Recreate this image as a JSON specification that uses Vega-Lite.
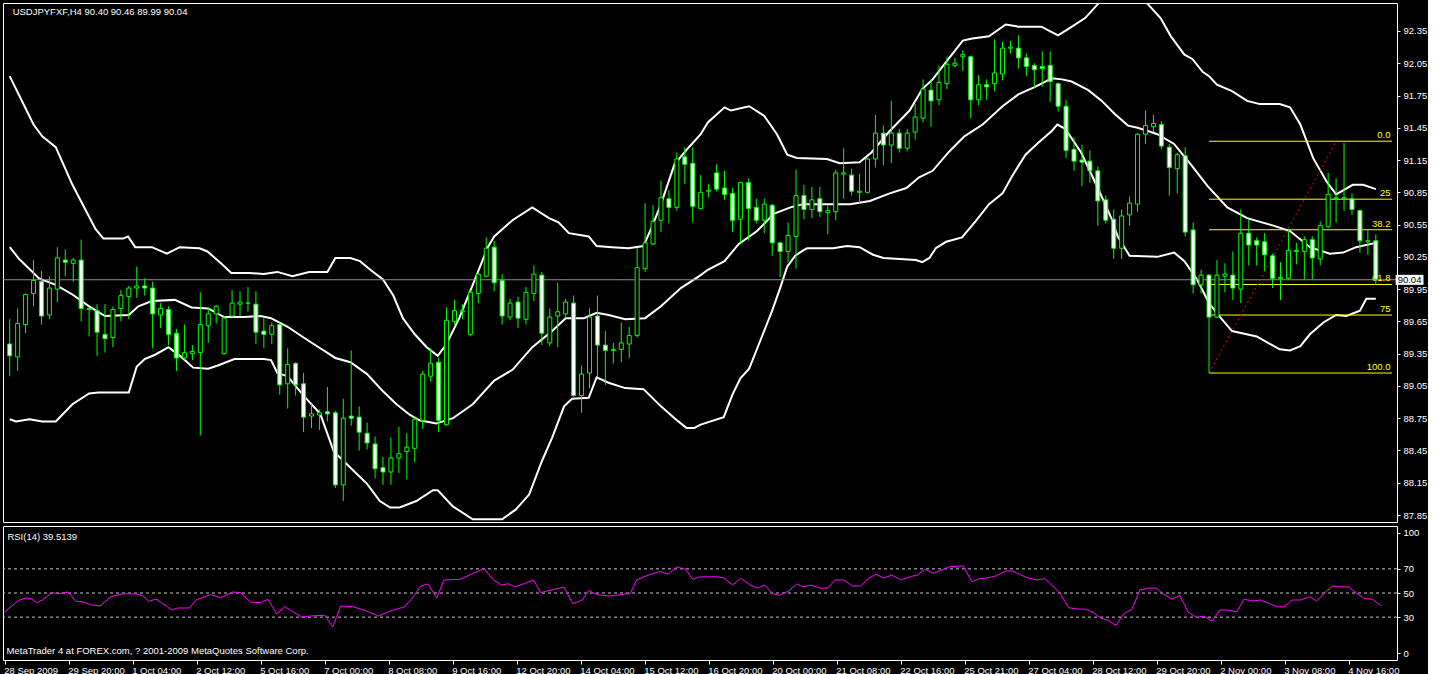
{
"$schema":"https://vega.github.io/schema/vega-lite/v6.json",
"background":"black",
"padding":{"left":2,"top":2,"right":0,"bottom":0},
"spacing":2,
"config":{"font":"Liberation Sans","view":{"stroke":"white","strokeWidth":1},
"axis":{"labelColor":"white","tickColor":"white","domainColor":"white","labelFont":"Liberation Sans","labelFontSize":9.5,"grid":false,"title":null,"tickSize":3,"domain":false,"labelOverlap":false}},
"resolve":{"scale":{"x":"independent","y":"independent"}},
"datasets":{
"bars":[
{"i":0,"o":89.44,"h":89.67,"l":89.14,"c":89.33},{"i":1,"o":89.32,"h":89.77,"l":89.19,"c":89.63},{"i":2,"o":89.62,"h":89.91,"l":89.54,"c":89.90},{"i":3,"o":89.91,"h":90.22,"l":89.79,"c":90.03},{"i":4,"o":90.02,"h":90.12,"l":89.62,"c":89.70},{"i":5,"o":89.71,"h":90.07,"l":89.67,"c":89.96},{"i":6,"o":89.95,"h":90.34,"l":89.83,"c":90.24},{"i":7,"o":90.22,"h":90.32,"l":90.07,"c":90.20},{"i":8,"o":90.19,"h":90.24,"l":90.02,"c":90.22},{"i":9,"o":90.22,"h":90.41,"l":89.65,"c":89.77},
{"i":10,"o":89.76,"h":89.78,"l":89.51,"c":89.77},{"i":11,"o":89.75,"h":89.81,"l":89.33,"c":89.55},{"i":12,"o":89.53,"h":89.81,"l":89.36,"c":89.49},{"i":13,"o":89.50,"h":89.79,"l":89.41,"c":89.76},{"i":14,"o":89.77,"h":89.94,"l":89.65,"c":89.89},{"i":15,"o":89.88,"h":89.98,"l":89.67,"c":89.96},{"i":16,"o":89.96,"h":90.16,"l":89.87,"c":89.98},{"i":17,"o":89.98,"h":90.05,"l":89.89,"c":89.96},{"i":18,"o":89.96,"h":90.02,"l":89.40,"c":89.72},{"i":19,"o":89.71,"h":89.82,"l":89.59,"c":89.77},
{"i":20,"o":89.76,"h":89.79,"l":89.43,"c":89.53},{"i":21,"o":89.54,"h":89.58,"l":89.19,"c":89.31},{"i":22,"o":89.31,"h":89.62,"l":89.29,"c":89.36},{"i":23,"o":89.35,"h":89.43,"l":89.29,"c":89.37},{"i":24,"o":89.36,"h":89.92,"l":88.59,"c":89.62},{"i":25,"o":89.61,"h":89.78,"l":89.45,"c":89.72},{"i":26,"o":89.72,"h":89.80,"l":89.63,"c":89.79},{"i":27,"o":89.35,"h":89.70,"l":89.34,"c":89.68},{"i":28,"o":89.70,"h":89.94,"l":89.69,"c":89.82},{"i":29,"o":89.81,"h":89.93,"l":89.70,"c":89.83},
{"i":30,"o":89.82,"h":89.97,"l":89.74,"c":89.82},{"i":31,"o":89.81,"h":89.93,"l":89.44,"c":89.55},{"i":32,"o":89.56,"h":89.68,"l":89.40,"c":89.53},{"i":33,"o":89.53,"h":89.64,"l":89.44,"c":89.61},{"i":34,"o":89.62,"h":89.64,"l":88.97,"c":89.06},{"i":35,"o":89.07,"h":89.40,"l":88.84,"c":89.25},{"i":36,"o":89.26,"h":89.27,"l":88.96,"c":89.06},{"i":37,"o":89.07,"h":89.17,"l":88.62,"c":88.76},{"i":38,"o":88.77,"h":88.88,"l":88.66,"c":88.79},{"i":39,"o":88.78,"h":88.83,"l":88.64,"c":88.80},
{"i":40,"o":88.81,"h":89.04,"l":88.72,"c":88.79},{"i":41,"o":88.80,"h":88.82,"l":88.10,"c":88.13},{"i":42,"o":88.13,"h":88.93,"l":87.98,"c":88.75},{"i":43,"o":88.77,"h":89.38,"l":88.68,"c":88.75},{"i":44,"o":88.76,"h":88.86,"l":88.45,"c":88.62},{"i":45,"o":88.61,"h":88.71,"l":88.46,"c":88.52},{"i":46,"o":88.51,"h":88.58,"l":88.19,"c":88.28},{"i":47,"o":88.29,"h":88.39,"l":88.13,"c":88.25},{"i":48,"o":88.25,"h":88.57,"l":88.13,"c":88.38},{"i":49,"o":88.38,"h":88.67,"l":88.24,"c":88.42},
{"i":50,"o":88.44,"h":88.61,"l":88.18,"c":88.48},{"i":51,"o":88.47,"h":88.76,"l":88.34,"c":88.74},{"i":52,"o":88.73,"h":89.19,"l":88.65,"c":89.16},{"i":53,"o":89.14,"h":89.40,"l":89.09,"c":89.26},{"i":54,"o":89.27,"h":89.31,"l":88.62,"c":88.73},{"i":55,"o":88.69,"h":89.78,"l":88.68,"c":89.66},{"i":56,"o":89.65,"h":89.85,"l":89.62,"c":89.75},{"i":57,"o":89.74,"h":89.81,"l":89.67,"c":89.75},{"i":58,"o":89.53,"h":89.94,"l":89.51,"c":89.92},{"i":59,"o":89.91,"h":90.10,"l":89.82,"c":90.09},
{"i":60,"o":90.07,"h":90.43,"l":90.06,"c":90.33},{"i":61,"o":90.34,"h":90.40,"l":89.93,"c":90.01},{"i":62,"o":90.03,"h":90.09,"l":89.62,"c":89.70},{"i":63,"o":89.69,"h":89.86,"l":89.66,"c":89.82},{"i":64,"o":89.83,"h":89.88,"l":89.59,"c":89.68},{"i":65,"o":89.67,"h":89.97,"l":89.62,"c":89.92},{"i":66,"o":89.91,"h":90.17,"l":89.84,"c":90.09},{"i":67,"o":90.08,"h":90.11,"l":89.43,"c":89.54},{"i":68,"o":89.45,"h":89.77,"l":89.42,"c":89.69},{"i":69,"o":89.70,"h":90.01,"l":89.41,"c":89.74},
{"i":70,"o":89.72,"h":89.86,"l":89.68,"c":89.83},{"i":71,"o":89.82,"h":89.89,"l":88.95,"c":88.96},{"i":72,"o":88.96,"h":89.24,"l":88.80,"c":89.16},{"i":73,"o":89.17,"h":89.77,"l":89.03,"c":89.69},{"i":74,"o":89.70,"h":89.89,"l":89.13,"c":89.43},{"i":75,"o":89.43,"h":89.56,"l":89.06,"c":89.38},{"i":76,"o":89.38,"h":89.45,"l":89.26,"c":89.39},{"i":77,"o":89.39,"h":89.64,"l":89.27,"c":89.45},{"i":78,"o":89.44,"h":89.60,"l":89.31,"c":89.52},{"i":79,"o":89.52,"h":90.33,"l":89.50,"c":90.15},
{"i":80,"o":90.14,"h":90.75,"l":90.11,"c":90.38},{"i":81,"o":90.37,"h":90.73,"l":90.36,"c":90.58},{"i":82,"o":90.59,"h":90.96,"l":90.48,"c":90.80},{"i":83,"o":90.79,"h":90.87,"l":90.56,"c":90.71},{"i":84,"o":90.71,"h":91.22,"l":90.68,"c":91.16},{"i":85,"o":91.18,"h":91.27,"l":90.93,"c":91.11},{"i":86,"o":91.12,"h":91.27,"l":90.57,"c":90.72},{"i":87,"o":90.70,"h":91.01,"l":90.69,"c":90.85},{"i":88,"o":90.86,"h":90.93,"l":90.80,"c":90.87},{"i":89,"o":91.03,"h":91.11,"l":90.86,"c":90.88},
{"i":90,"o":90.89,"h":91.05,"l":90.78,"c":90.83},{"i":91,"o":90.84,"h":90.89,"l":90.48,"c":90.59},{"i":92,"o":90.60,"h":90.95,"l":90.38,"c":90.94},{"i":93,"o":90.94,"h":90.98,"l":90.40,"c":90.70},{"i":94,"o":90.71,"h":90.79,"l":90.56,"c":90.59},{"i":95,"o":90.59,"h":90.79,"l":90.47,"c":90.74},{"i":96,"o":90.73,"h":90.74,"l":90.26,"c":90.38},{"i":97,"o":90.38,"h":90.39,"l":90.06,"c":90.30},{"i":98,"o":90.30,"h":90.57,"l":90.20,"c":90.45},{"i":99,"o":90.44,"h":91.06,"l":90.14,"c":90.82},
{"i":100,"o":90.82,"h":90.92,"l":90.60,"c":90.69},{"i":101,"o":90.69,"h":90.90,"l":90.61,"c":90.78},{"i":102,"o":90.79,"h":90.90,"l":90.62,"c":90.67},{"i":103,"o":90.66,"h":90.73,"l":90.46,"c":90.68},{"i":104,"o":90.67,"h":91.06,"l":90.59,"c":91.03},{"i":105,"o":91.02,"h":91.26,"l":90.79,"c":91.03},{"i":106,"o":91.01,"h":91.07,"l":90.82,"c":90.86},{"i":107,"o":90.85,"h":91.02,"l":90.75,"c":90.86},{"i":108,"o":90.85,"h":91.17,"l":90.84,"c":91.16},{"i":109,"o":91.16,"h":91.57,"l":91.08,"c":91.40},
{"i":110,"o":91.40,"h":91.47,"l":91.10,"c":91.29},{"i":111,"o":91.29,"h":91.70,"l":91.12,"c":91.40},{"i":112,"o":91.40,"h":91.44,"l":91.22,"c":91.26},{"i":113,"o":91.26,"h":91.44,"l":91.23,"c":91.40},{"i":114,"o":91.41,"h":91.67,"l":91.34,"c":91.55},{"i":115,"o":91.54,"h":91.90,"l":91.50,"c":91.81},{"i":116,"o":91.80,"h":91.90,"l":91.46,"c":91.70},{"i":117,"o":91.71,"h":92.03,"l":91.66,"c":91.87},{"i":118,"o":91.86,"h":92.11,"l":91.81,"c":92.04},{"i":119,"o":92.03,"h":92.10,"l":92.01,"c":92.05},
{"i":120,"o":92.11,"h":92.17,"l":91.98,"c":92.13},{"i":121,"o":92.11,"h":92.12,"l":91.54,"c":91.71},{"i":122,"o":91.71,"h":91.94,"l":91.66,"c":91.85},{"i":123,"o":91.85,"h":91.90,"l":91.71,"c":91.83},{"i":124,"o":91.86,"h":92.27,"l":91.79,"c":91.96},{"i":125,"o":91.95,"h":92.25,"l":91.89,"c":92.19},{"i":126,"o":92.19,"h":92.26,"l":92.14,"c":92.20},{"i":127,"o":92.19,"h":92.31,"l":92.00,"c":92.10},{"i":128,"o":92.10,"h":92.14,"l":91.93,"c":92.02},{"i":129,"o":92.03,"h":92.05,"l":91.82,"c":91.99},
{"i":130,"o":92.02,"h":92.16,"l":91.83,"c":92.00},{"i":131,"o":92.03,"h":92.16,"l":91.69,"c":91.88},{"i":132,"o":91.86,"h":91.87,"l":91.60,"c":91.65},{"i":133,"o":91.65,"h":91.71,"l":91.17,"c":91.24},{"i":134,"o":91.25,"h":91.36,"l":91.05,"c":91.14},{"i":135,"o":91.15,"h":91.29,"l":90.91,"c":91.13},{"i":136,"o":91.14,"h":91.24,"l":90.94,"c":91.05},{"i":137,"o":91.05,"h":91.09,"l":90.54,"c":90.77},{"i":138,"o":90.78,"h":90.82,"l":90.56,"c":90.59},{"i":139,"o":90.60,"h":90.69,"l":90.23,"c":90.33},
{"i":140,"o":90.33,"h":90.69,"l":90.23,"c":90.63},{"i":141,"o":90.64,"h":90.81,"l":90.54,"c":90.75},{"i":142,"o":90.74,"h":91.40,"l":90.67,"c":91.39},{"i":143,"o":91.39,"h":91.61,"l":91.30,"c":91.47},{"i":144,"o":91.46,"h":91.57,"l":91.41,"c":91.49},{"i":145,"o":91.48,"h":91.51,"l":91.25,"c":91.28},{"i":146,"o":91.27,"h":91.30,"l":90.82,"c":91.08},{"i":147,"o":91.07,"h":91.22,"l":90.84,"c":91.20},{"i":148,"o":91.19,"h":91.27,"l":90.44,"c":90.48},{"i":149,"o":90.50,"h":90.57,"l":89.91,"c":89.99},
{"i":150,"o":89.99,"h":90.13,"l":89.91,"c":90.08},{"i":151,"o":90.08,"h":90.09,"l":89.17,"c":89.69},{"i":152,"o":89.69,"h":90.22,"l":89.68,"c":90.08},{"i":153,"o":90.07,"h":90.19,"l":89.92,"c":90.09},{"i":154,"o":90.08,"h":90.30,"l":89.85,"c":89.96},{"i":155,"o":89.95,"h":90.69,"l":89.82,"c":90.47},{"i":156,"o":90.47,"h":90.60,"l":90.17,"c":90.36},{"i":157,"o":90.40,"h":90.43,"l":90.17,"c":90.36},{"i":158,"o":90.39,"h":90.47,"l":90.12,"c":90.27},{"i":159,"o":90.26,"h":90.28,"l":89.96,"c":90.05},
{"i":160,"o":90.05,"h":90.20,"l":89.85,"c":90.06},{"i":161,"o":90.05,"h":90.51,"l":90.04,"c":90.31},{"i":162,"o":90.30,"h":90.38,"l":90.18,"c":90.31},{"i":163,"o":90.30,"h":90.44,"l":90.04,"c":90.41},{"i":164,"o":90.41,"h":90.44,"l":90.04,"c":90.24},{"i":165,"o":90.23,"h":90.58,"l":90.17,"c":90.54},{"i":166,"o":90.53,"h":91.03,"l":90.52,"c":90.83},{"i":167,"o":90.79,"h":90.98,"l":90.57,"c":90.80},{"i":168,"o":90.79,"h":91.31,"l":90.68,"c":90.80},{"i":169,"o":90.79,"h":90.84,"l":90.64,"c":90.69},
{"i":170,"o":90.68,"h":90.69,"l":90.29,"c":90.40},{"i":171,"o":90.39,"h":90.50,"l":90.27,"c":90.40},{"i":172,"o":90.40,"h":90.46,"l":89.99,"c":90.04}
],
"bands":[
{"b":"u","i":0,"v":91.93},{"b":"u","i":3.0,"v":91.48},{"b":"u","i":4.1,"v":91.37},{"b":"u","i":5.8,"v":91.27},{"b":"u","i":7.9,"v":90.92},{"b":"u","i":10.8,"v":90.51},{"b":"u","i":11.8,"v":90.42},{"b":"u","i":14.3,"v":90.42},{"b":"u","i":14.9,"v":90.44},{"b":"u","i":15.8,"v":90.34},{"b":"u","i":17.9,"v":90.34},{"b":"u","i":19.8,"v":90.28},{"b":"u","i":21.4,"v":90.34},{"b":"u","i":23.9,"v":90.33},{"b":"u","i":24.9,"v":90.30},{"b":"u","i":26.6,"v":90.19},{"b":"u","i":27.9,"v":90.10},{"b":"u","i":30.2,"v":90.10},{"b":"u","i":32.0,"v":90.09},{"b":"u","i":33.7,"v":90.11},{"b":"u","i":35.6,"v":90.07},{"b":"u","i":37.7,"v":90.11},{"b":"u","i":40.0,"v":90.11},{"b":"u","i":41.0,"v":90.24},{"b":"u","i":42.9,"v":90.24},{"b":"u","i":44.1,"v":90.21},{"b":"u","i":45.4,"v":90.13},{"b":"u","i":47.0,"v":90.04},{"b":"u","i":48.3,"v":89.89},{"b":"u","i":49.5,"v":89.68},{"b":"u","i":51.0,"v":89.53},{"b":"u","i":52.5,"v":89.41},{"b":"u","i":53.9,"v":89.33},{"b":"u","i":55.0,"v":89.44},{"b":"u","i":56.6,"v":89.68},{"b":"u","i":58.3,"v":89.99},{"b":"u","i":60.2,"v":90.34},{"b":"u","i":61.0,"v":90.44},{"b":"u","i":63.3,"v":90.59},{"b":"u","i":65.8,"v":90.71},{"b":"u","i":67.9,"v":90.61},{"b":"u","i":69.1,"v":90.57},{"b":"u","i":70.4,"v":90.47},{"b":"u","i":72.9,"v":90.44},{"b":"u","i":73.9,"v":90.35},{"b":"u","i":75.8,"v":90.34},{"b":"u","i":77.9,"v":90.33},{"b":"u","i":79.8,"v":90.35},{"b":"u","i":80.8,"v":90.52},{"b":"u","i":82.0,"v":90.74},{"b":"u","i":83.7,"v":91.11},{"b":"u","i":85.4,"v":91.26},{"b":"u","i":87.0,"v":91.39},{"b":"u","i":87.9,"v":91.50},{"b":"u","i":90.0,"v":91.64},{"b":"u","i":90.8,"v":91.61},{"b":"u","i":93.1,"v":91.65},{"b":"u","i":95.0,"v":91.56},{"b":"u","i":96.6,"v":91.39},{"b":"u","i":97.9,"v":91.20},{"b":"u","i":99.1,"v":91.17},{"b":"u","i":102.9,"v":91.16},{"b":"u","i":104.5,"v":91.12},{"b":"u","i":107.0,"v":91.13},{"b":"u","i":108.5,"v":91.22},{"b":"u","i":110.8,"v":91.42},{"b":"u","i":113.3,"v":91.61},{"b":"u","i":114.9,"v":91.81},{"b":"u","i":116.2,"v":91.90},{"b":"u","i":118.3,"v":92.10},{"b":"u","i":120.0,"v":92.26},{"b":"u","i":121.2,"v":92.28},{"b":"u","i":123.3,"v":92.30},{"b":"u","i":125.4,"v":92.41},{"b":"u","i":127.0,"v":92.39},{"b":"u","i":129.9,"v":92.39},{"b":"u","i":131.2,"v":92.34},{"b":"u","i":132.0,"v":92.31},{"b":"u","i":133.3,"v":92.37},{"b":"u","i":135.4,"v":92.47},{"b":"u","i":137.0,"v":92.60},{"b":"u","i":138.5,"v":92.72},{"b":"u","i":140.2,"v":92.80},{"b":"u","i":141.7,"v":92.72},{"b":"u","i":143.3,"v":92.60},{"b":"u","i":144.9,"v":92.47},{"b":"u","i":146.2,"v":92.30},{"b":"u","i":147.9,"v":92.13},{"b":"u","i":148.9,"v":92.09},{"b":"u","i":150.2,"v":91.97},{"b":"u","i":151.0,"v":91.93},{"b":"u","i":152.0,"v":91.85},{"b":"u","i":153.9,"v":91.79},{"b":"u","i":155.8,"v":91.70},{"b":"u","i":157.4,"v":91.67},{"b":"u","i":159.9,"v":91.67},{"b":"u","i":161.2,"v":91.64},{"b":"u","i":162.5,"v":91.48},{"b":"u","i":164.1,"v":91.17},{"b":"u","i":165.8,"v":90.95},{"b":"u","i":167.0,"v":90.83},{"b":"u","i":169.1,"v":90.92},{"b":"u","i":170.4,"v":90.92},{"b":"u","i":172.0,"v":90.88},
{"b":"m","i":0,"v":90.34},{"b":"m","i":1.2,"v":90.23},{"b":"m","i":3.7,"v":90.05},{"b":"m","i":5.8,"v":89.99},{"b":"m","i":7.9,"v":89.90},{"b":"m","i":10.0,"v":89.79},{"b":"m","i":12.0,"v":89.70},{"b":"m","i":15.0,"v":89.71},{"b":"m","i":16.2,"v":89.79},{"b":"m","i":17.9,"v":89.84},{"b":"m","i":20.8,"v":89.85},{"b":"m","i":22.9,"v":89.78},{"b":"m","i":25.0,"v":89.77},{"b":"m","i":27.0,"v":89.69},{"b":"m","i":29.5,"v":89.69},{"b":"m","i":31.6,"v":89.70},{"b":"m","i":32.9,"v":89.68},{"b":"m","i":35.0,"v":89.60},{"b":"m","i":37.0,"v":89.50},{"b":"m","i":39.1,"v":89.40},{"b":"m","i":41.0,"v":89.31},{"b":"m","i":42.9,"v":89.27},{"b":"m","i":45.0,"v":89.16},{"b":"m","i":47.0,"v":89.00},{"b":"m","i":48.7,"v":88.88},{"b":"m","i":50.4,"v":88.78},{"b":"m","i":51.6,"v":88.73},{"b":"m","i":53.7,"v":88.70},{"b":"m","i":55.8,"v":88.75},{"b":"m","i":58.3,"v":88.88},{"b":"m","i":61.0,"v":89.10},{"b":"m","i":63.3,"v":89.20},{"b":"m","i":65.8,"v":89.41},{"b":"m","i":68.3,"v":89.56},{"b":"m","i":70.0,"v":89.68},{"b":"m","i":72.3,"v":89.68},{"b":"m","i":73.9,"v":89.73},{"b":"m","i":75.4,"v":89.71},{"b":"m","i":77.5,"v":89.67},{"b":"m","i":80.0,"v":89.68},{"b":"m","i":82.0,"v":89.79},{"b":"m","i":84.5,"v":89.96},{"b":"m","i":87.0,"v":90.08},{"b":"m","i":87.9,"v":90.13},{"b":"m","i":90.0,"v":90.21},{"b":"m","i":91.8,"v":90.37},{"b":"m","i":94.1,"v":90.49},{"b":"m","i":96.2,"v":90.65},{"b":"m","i":98.3,"v":90.71},{"b":"m","i":99.9,"v":90.74},{"b":"m","i":103.3,"v":90.74},{"b":"m","i":105.8,"v":90.74},{"b":"m","i":108.3,"v":90.77},{"b":"m","i":110.8,"v":90.84},{"b":"m","i":112.9,"v":90.89},{"b":"m","i":114.5,"v":90.99},{"b":"m","i":116.2,"v":91.05},{"b":"m","i":118.3,"v":91.23},{"b":"m","i":120.2,"v":91.37},{"b":"m","i":122.5,"v":91.48},{"b":"m","i":125.0,"v":91.65},{"b":"m","i":127.0,"v":91.76},{"b":"m","i":129.1,"v":91.83},{"b":"m","i":131.2,"v":91.91},{"b":"m","i":132.5,"v":91.90},{"b":"m","i":133.7,"v":91.88},{"b":"m","i":135.8,"v":91.80},{"b":"m","i":137.5,"v":91.70},{"b":"m","i":139.1,"v":91.58},{"b":"m","i":140.8,"v":91.47},{"b":"m","i":142.0,"v":91.45},{"b":"m","i":143.3,"v":91.42},{"b":"m","i":144.5,"v":91.39},{"b":"m","i":146.6,"v":91.30},{"b":"m","i":148.7,"v":91.11},{"b":"m","i":150.8,"v":90.91},{"b":"m","i":153.3,"v":90.71},{"b":"m","i":155.8,"v":90.61},{"b":"m","i":159.1,"v":90.54},{"b":"m","i":161.2,"v":90.49},{"b":"m","i":163.7,"v":90.34},{"b":"m","i":166.2,"v":90.28},{"b":"m","i":167.9,"v":90.29},{"b":"m","i":169.5,"v":90.34},{"b":"m","i":172.0,"v":90.38},
{"b":"l","i":0,"v":88.74},{"b":"l","i":0.8,"v":88.72},{"b":"l","i":2.5,"v":88.74},{"b":"l","i":4.1,"v":88.72},{"b":"l","i":5.8,"v":88.72},{"b":"l","i":7.9,"v":88.88},{"b":"l","i":10.0,"v":88.98},{"b":"l","i":11.2,"v":88.99},{"b":"l","i":15.0,"v":88.99},{"b":"l","i":16.0,"v":89.23},{"b":"l","i":17.0,"v":89.30},{"b":"l","i":18.3,"v":89.34},{"b":"l","i":20.0,"v":89.41},{"b":"l","i":21.6,"v":89.32},{"b":"l","i":23.1,"v":89.22},{"b":"l","i":25.0,"v":89.21},{"b":"l","i":26.2,"v":89.24},{"b":"l","i":28.3,"v":89.30},{"b":"l","i":32.0,"v":89.30},{"b":"l","i":32.9,"v":89.29},{"b":"l","i":33.7,"v":89.17},{"b":"l","i":35.0,"v":89.14},{"b":"l","i":37.0,"v":88.96},{"b":"l","i":39.1,"v":88.79},{"b":"l","i":40.8,"v":88.44},{"b":"l","i":42.9,"v":88.29},{"b":"l","i":45.0,"v":88.14},{"b":"l","i":46.6,"v":87.98},{"b":"l","i":47.9,"v":87.92},{"b":"l","i":49.1,"v":87.92},{"b":"l","i":51.2,"v":87.98},{"b":"l","i":53.3,"v":88.08},{"b":"l","i":53.9,"v":88.08},{"b":"l","i":55.8,"v":87.93},{"b":"l","i":58.3,"v":87.81},{"b":"l","i":62.0,"v":87.81},{"b":"l","i":63.7,"v":87.90},{"b":"l","i":65.4,"v":88.04},{"b":"l","i":67.0,"v":88.35},{"b":"l","i":68.3,"v":88.57},{"b":"l","i":69.8,"v":88.86},{"b":"l","i":70.8,"v":88.93},{"b":"l","i":72.9,"v":88.94},{"b":"l","i":73.9,"v":89.13},{"b":"l","i":75.4,"v":89.08},{"b":"l","i":77.5,"v":89.03},{"b":"l","i":79.8,"v":89.02},{"b":"l","i":82.0,"v":88.86},{"b":"l","i":83.7,"v":88.75},{"b":"l","i":85.2,"v":88.66},{"b":"l","i":86.2,"v":88.66},{"b":"l","i":87.0,"v":88.69},{"b":"l","i":89.9,"v":88.76},{"b":"l","i":91.0,"v":88.97},{"b":"l","i":92.0,"v":89.12},{"b":"l","i":93.1,"v":89.21},{"b":"l","i":94.5,"v":89.47},{"b":"l","i":96.0,"v":89.75},{"b":"l","i":97.0,"v":89.96},{"b":"l","i":97.9,"v":90.16},{"b":"l","i":98.9,"v":90.26},{"b":"l","i":99.9,"v":90.31},{"b":"l","i":100.4,"v":90.33},{"b":"l","i":103.7,"v":90.33},{"b":"l","i":105.4,"v":90.35},{"b":"l","i":107.0,"v":90.34},{"b":"l","i":108.7,"v":90.27},{"b":"l","i":110.0,"v":90.24},{"b":"l","i":114.1,"v":90.22},{"b":"l","i":114.9,"v":90.20},{"b":"l","i":115.8,"v":90.24},{"b":"l","i":116.6,"v":90.33},{"b":"l","i":117.9,"v":90.39},{"b":"l","i":119.9,"v":90.43},{"b":"l","i":121.6,"v":90.58},{"b":"l","i":123.3,"v":90.74},{"b":"l","i":125.0,"v":90.84},{"b":"l","i":126.2,"v":91.00},{"b":"l","i":127.9,"v":91.20},{"b":"l","i":129.5,"v":91.31},{"b":"l","i":131.2,"v":91.42},{"b":"l","i":131.9,"v":91.48},{"b":"l","i":132.9,"v":91.44},{"b":"l","i":134.9,"v":91.22},{"b":"l","i":137.0,"v":90.89},{"b":"l","i":138.7,"v":90.61},{"b":"l","i":139.5,"v":90.44},{"b":"l","i":141.0,"v":90.26},{"b":"l","i":144.5,"v":90.25},{"b":"l","i":146.6,"v":90.29},{"b":"l","i":147.9,"v":90.21},{"b":"l","i":149.5,"v":90.04},{"b":"l","i":151.0,"v":89.82},{"b":"l","i":152.5,"v":89.68},{"b":"l","i":153.9,"v":89.56},{"b":"l","i":157.0,"v":89.51},{"b":"l","i":159.9,"v":89.39},{"b":"l","i":161.2,"v":89.38},{"b":"l","i":162.5,"v":89.42},{"b":"l","i":163.7,"v":89.53},{"b":"l","i":165.4,"v":89.64},{"b":"l","i":167.0,"v":89.71},{"b":"l","i":168.3,"v":89.70},{"b":"l","i":170.0,"v":89.75},{"b":"l","i":170.8,"v":89.86},{"b":"l","i":172.0,"v":89.86}
],
"rsi":[
{"i":0,"v":34.3},{"i":1.8,"v":44.2},{"i":2.7,"v":45.9},{"i":3.3,"v":45.3},{"i":4.0,"v":42.0},{"i":4.7,"v":44.2},{"i":5.9,"v":50.3},{"i":6.7,"v":49.4},{"i":7.9,"v":50.8},{"i":8.9,"v":43.1},{"i":9.9,"v":42.5},{"i":10.7,"v":40.3},{"i":11.9,"v":39.2},{"i":13.3,"v":47.0},{"i":14.8,"v":49.4},{"i":16.5,"v":49.2},{"i":17.3,"v":47.5},{"i":18.0,"v":43.1},{"i":18.9,"v":45.0},{"i":20.9,"v":35.9},{"i":21.6,"v":37.6},{"i":23.1,"v":37.6},{"i":23.9,"v":44.2},{"i":25.7,"v":48.6},{"i":27.0,"v":46.1},{"i":28.5,"v":50.8},{"i":29.5,"v":50.3},{"i":30.7,"v":42.5},{"i":32.0,"v":42.0},{"i":32.9,"v":44.8},{"i":34.0,"v":32.6},{"i":35.0,"v":38.7},{"i":37.1,"v":30.1},{"i":38.6,"v":31.2},{"i":40.0,"v":31.5},{"i":41.0,"v":21.8},{"i":42.0,"v":39.2},{"i":43.5,"v":38.7},{"i":45.2,"v":35.1},{"i":46.7,"v":30.9},{"i":48.2,"v":35.1},{"i":49.9,"v":38.4},{"i":50.9,"v":45.3},{"i":52.0,"v":55.8},{"i":52.9,"v":57.5},{"i":54.0,"v":45.9},{"i":54.9,"v":60.8},{"i":56.9,"v":61.3},{"i":59.9,"v":70.2},{"i":61.1,"v":60.8},{"i":62.1,"v":56.6},{"i":62.9,"v":57.7},{"i":63.8,"v":55.0},{"i":66.1,"v":60.8},{"i":67.0,"v":50.3},{"i":69.9,"v":55.0},{"i":71.0,"v":41.2},{"i":72.2,"v":44.2},{"i":73.0,"v":52.2},{"i":74.0,"v":48.6},{"i":75.6,"v":47.5},{"i":78.2,"v":49.7},{"i":79.0,"v":60.8},{"i":79.9,"v":63.5},{"i":81.9,"v":68.0},{"i":82.9,"v":65.5},{"i":84.0,"v":71.5},{"i":85.1,"v":69.6},{"i":86.0,"v":61.3},{"i":86.8,"v":63.3},{"i":88.8,"v":63.5},{"i":89.8,"v":62.7},{"i":91.0,"v":56.6},{"i":92.0,"v":62.2},{"i":93.1,"v":56.9},{"i":94.1,"v":54.1},{"i":95.0,"v":56.6},{"i":96.0,"v":49.4},{"i":96.8,"v":48.1},{"i":98.0,"v":51.7},{"i":99.0,"v":57.5},{"i":99.8,"v":55.2},{"i":100.8,"v":56.6},{"i":101.9,"v":54.1},{"i":102.9,"v":54.1},{"i":103.8,"v":60.8},{"i":104.9,"v":60.8},{"i":105.9,"v":55.8},{"i":107.0,"v":55.8},{"i":108.0,"v":62.2},{"i":108.9,"v":65.5},{"i":109.9,"v":62.4},{"i":110.9,"v":64.9},{"i":112.0,"v":60.8},{"i":113.2,"v":63.5},{"i":114.1,"v":65.0},{"i":115.0,"v":69.6},{"i":116.1,"v":66.3},{"i":118.1,"v":71.8},{"i":119.8,"v":72.4},{"i":120.9,"v":59.4},{"i":121.8,"v":61.9},{"i":122.9,"v":62.7},{"i":123.9,"v":64.1},{"i":125.1,"v":68.2},{"i":126.0,"v":68.2},{"i":127.0,"v":64.9},{"i":127.8,"v":62.7},{"i":129.0,"v":60.8},{"i":130.0,"v":61.9},{"i":131.3,"v":53.9},{"i":132.0,"v":48.9},{"i":133.0,"v":37.8},{"i":134.1,"v":36.7},{"i":135.0,"v":36.7},{"i":136.0,"v":34.3},{"i":136.9,"v":29.6},{"i":137.9,"v":27.3},{"i":138.9,"v":23.2},{"i":139.9,"v":32.9},{"i":140.9,"v":36.5},{"i":141.9,"v":52.5},{"i":142.9,"v":54.1},{"i":143.9,"v":54.1},{"i":144.9,"v":48.9},{"i":145.9,"v":44.8},{"i":146.9,"v":48.1},{"i":147.9,"v":34.3},{"i":149.0,"v":29.6},{"i":149.9,"v":30.9},{"i":150.9,"v":26.8},{"i":151.9,"v":35.9},{"i":153.0,"v":35.9},{"i":154.0,"v":34.3},{"i":154.9,"v":44.8},{"i":156.0,"v":43.4},{"i":157.0,"v":44.2},{"i":158.0,"v":41.4},{"i":159.0,"v":38.7},{"i":159.9,"v":38.4},{"i":160.9,"v":44.2},{"i":162.0,"v":44.2},{"i":163.1,"v":47.0},{"i":164.0,"v":43.4},{"i":165.0,"v":50.3},{"i":166.0,"v":55.8},{"i":167.0,"v":55.2},{"i":168.0,"v":55.0},{"i":169.0,"v":49.7},{"i":170.0,"v":45.3},{"i":171.0,"v":44.8},{"i":172.0,"v":39.5}
],
"fib":[{"lab":"0.0","p":91.325},{"lab":"25","p":90.786},{"lab":"38.2","p":90.502},{"lab":"61.8","p":89.993},{"lab":"75","p":89.709},{"lab":"100.0","p":89.17}],
"diag":[{"i":151,"p":89.17},{"i":167,"p":91.325}],
"levels":[{"lv":30},{"lv":50},{"lv":70}],
"maintext":[{"i":0.37,"p":92.53,"t":"USDJPYFXF,H4  90.40 90.46 89.99 90.04"}],
"pricebox":[{"x1":174.5,"x2":178.0,"p1":90.083,"p2":89.99,"tx":174.75,"p":90.037,"t":"90.04"}],
"rsitext":[{"i":0.34,"v":96.3,"t":"RSI(14) 39.5139"},{"i":0.23,"v":2.0,"t":"MetaTrader 4 at FOREX.com, ? 2001-2009 MetaQuotes Software Corp."}]
},
"vconcat":[
{
"width":1394,"height":519,
"layer":[
{"data":{"name":"bands"},"mark":{"type":"line","color":"white","strokeWidth":2,"clip":true},
 "encoding":{"x":{"field":"i","type":"quantitative","scale":{"domain":[-0.2125,174.0375],"nice":false,"zero":false},"axis":null},
 "y":{"field":"v","type":"quantitative","scale":{"domain":[87.785,92.61],"nice":false,"zero":false},
   "axis":{"orient":"right","values":[87.85,88.15,88.45,88.75,89.05,89.35,89.65,89.95,90.25,90.55,90.85,91.15,91.45,91.75,92.05,92.35],"tickCount":40,"format":".2f","labelPadding":3,"tickSize":3,"labelOverlap":false,"labelBound":false,"labelFlush":false}},
 "detail":{"field":"b"}}},
{"data":{"name":"pricebox"},"mark":{"type":"rule","color":"#8a8f9a","strokeWidth":1},"encoding":{"y":{"field":"p","type":"quantitative"}}},
{"data":{"name":"fib"},"mark":{"type":"rule","color":"#ffff00","strokeWidth":1},
 "encoding":{"x":{"datum":151},"x2":{"datum":174.0375},"y":{"field":"p","type":"quantitative"}}},
{"data":{"name":"fib"},"mark":{"type":"text","color":"#ffff00","align":"right","baseline":"bottom","dy":-1,"fontSize":9.5,"font":"Liberation Sans"},
 "encoding":{"x":{"datum":173.85},"y":{"field":"p","type":"quantitative"},"text":{"field":"lab"}}},
{"data":{"name":"diag"},"mark":{"type":"line","color":"#ff0000","strokeWidth":1,"strokeDash":[2,3]},
 "encoding":{"x":{"field":"i","type":"quantitative"},"y":{"field":"p","type":"quantitative"}}},
{"data":{"name":"bars"},"mark":{"type":"rule","color":"#00ff00","strokeWidth":1},
 "encoding":{"x":{"field":"i","type":"quantitative"},"y":{"field":"l","type":"quantitative"},"y2":{"field":"h"}}},
{"data":{"name":"bars"},"mark":{"type":"bar","size":4,"stroke":"#00ff00","strokeWidth":1},
 "encoding":{"x":{"field":"i","type":"quantitative"},"y":{"field":"o","type":"quantitative"},"y2":{"field":"c"},
 "fill":{"condition":{"test":"datum.c >= datum.o","value":"black"},"value":"white"}}},
{"data":{"name":"pricebox"},"mark":{"type":"rect","fill":"white","clip":false},
 "encoding":{"x":{"field":"x1","type":"quantitative"},"x2":{"field":"x2"},"y":{"field":"p1","type":"quantitative"},"y2":{"field":"p2"}}},
{"data":{"name":"pricebox"},"mark":{"type":"text","color":"black","align":"left","baseline":"middle","fontSize":9.5,"clip":false,"font":"Liberation Sans"},
 "encoding":{"x":{"field":"tx","type":"quantitative"},"y":{"field":"p","type":"quantitative"},"text":{"field":"t"}}},
{"data":{"name":"maintext"},"mark":{"type":"text","color":"white","align":"left","baseline":"middle","fontSize":9.5,"font":"Liberation Sans"},
 "encoding":{"x":{"field":"i","type":"quantitative"},"y":{"field":"p","type":"quantitative"},"text":{"field":"t"}}}
]
},
{
"width":1394,"height":134,
"layer":[
{"data":{"name":"levels"},"mark":{"type":"rule","color":"#c8c8c8","strokeWidth":1,"strokeDash":[3,3]},
 "encoding":{"y":{"field":"lv","type":"quantitative","scale":{"domain":[-5.5,105.5],"nice":false,"zero":false},
   "axis":{"orient":"right","values":[0,30,50,70,100],"tickCount":20,"labelPadding":3,"tickSize":3,"labelOverlap":false,"labelBound":false,"labelFlush":false}}}},
{"data":{"name":"rsi"},"mark":{"type":"line","color":"#ff00ff","strokeWidth":1},
 "encoding":{"x":{"field":"i","type":"quantitative","scale":{"domain":[-0.2125,174.0375],"nice":false,"zero":false},
   "axis":{"orient":"bottom","values":[0,8,16,24,32,40,48,56,64,72,80,88,96,104,112,120,128,136,144,152,160,168],"tickCount":60,
   "labelExpr":"['28 Sep 2009','29 Sep 20:00','1 Oct 04:00','2 Oct 12:00','5 Oct 16:00','7 Oct 00:00','8 Oct 08:00','9 Oct 16:00','12 Oct 20:00','14 Oct 04:00','15 Oct 12:00','16 Oct 20:00','20 Oct 00:00','21 Oct 08:00','22 Oct 16:00','25 Oct 21:00','27 Oct 04:00','28 Oct 12:00','29 Oct 20:00','2 Nov 00:00','3 Nov 08:00','4 Nov 16:00'][round(datum.value/8)]",
   "labelAlign":"left","labelBaseline":"top","labelPadding":1,"labelOffset":-1,"tickSize":4,"labelOverlap":false,"labelFlush":false,"labelBound":false}},
 "y":{"field":"v","type":"quantitative"}}},
{"data":{"name":"rsitext"},"mark":{"type":"text","color":"white","align":"left","baseline":"middle","fontSize":9.5,"font":"Liberation Sans"},
 "encoding":{"x":{"field":"i","type":"quantitative"},"y":{"field":"v","type":"quantitative"},"text":{"field":"t"}}}
]
}
]
}
